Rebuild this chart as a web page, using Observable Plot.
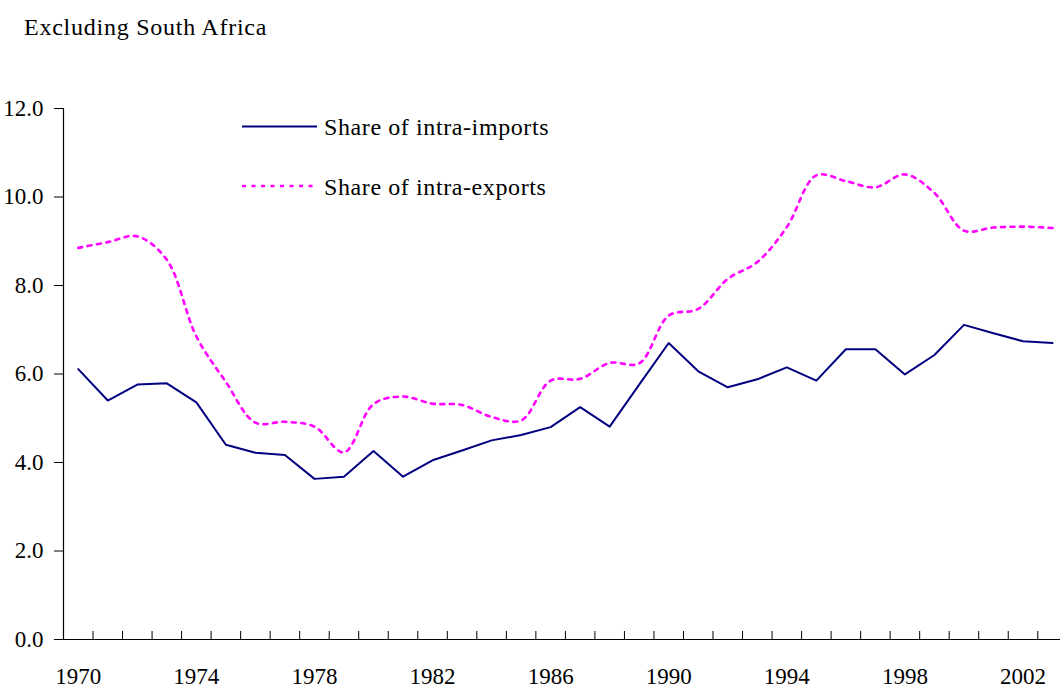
<!DOCTYPE html>
<html><head><meta charset="utf-8">
<script src="https://cdn.jsdelivr.net/npm/d3@7"></script>
<script src="https://cdn.jsdelivr.net/npm/@observablehq/plot@0.6"></script>
<style>
body{margin:0;background:#fff;}
#wrap{position:relative;width:1060px;height:692px;overflow:hidden;background:#fff;}
#title{height:55px;box-sizing:border-box;padding:16px 0 0 24px;font-family:"Liberation Serif",serif;font-size:24px;line-height:22px;letter-spacing:0.75px;color:#000;white-space:nowrap;}
#legend{position:absolute;left:0;top:0;pointer-events:none;}
</style></head><body>
<div id="wrap"><div id="title"></div><div id="chart"></div><svg id="legend" width="1060" height="692"></svg></div>
<script>
const titleText = "Excluding South Africa";
const seriesNames = ["Share of intra-imports", "Share of intra-exports"];
const years = [1970,1971,1972,1973,1974,1975,1976,1977,1978,1979,1980,1981,1982,1983,1984,1985,1986,1987,1988,1989,1990,1991,1992,1993,1994,1995,1996,1997,1998,1999,2000,2001,2002,2003];
const imports = [6.11,5.40,5.76,5.79,5.36,4.40,4.22,4.17,3.63,3.68,4.26,3.68,4.05,4.27,4.50,4.62,4.80,5.25,4.81,5.76,6.70,6.06,5.70,5.88,6.15,5.85,6.56,6.56,5.99,6.43,7.11,6.92,6.74,6.70];
const exports_ = [8.85,8.98,9.11,8.58,6.85,5.82,4.90,4.92,4.81,4.23,5.32,5.49,5.33,5.30,5.03,4.95,5.85,5.89,6.25,6.24,7.32,7.47,8.15,8.53,9.32,10.49,10.36,10.22,10.51,10.09,9.24,9.31,9.33,9.30];
const yTicks = [0,2,4,6,8,10,12];
const xLabels = [1970,1974,1978,1982,1986,1990,1994,1998,2002];

document.getElementById("title").textContent = titleText;

const importRows = years.map((year,i)=>({year, value: imports[i], series: seriesNames[0]}));
const exportRows = years.map((year,i)=>({year, value: exports_[i], series: seriesNames[1]}));
const boundaries = years.slice(0,-1).map(y => y + 0.5);

const W = 1060, H = 637, MT = 53, MB = 53, ML = 63;
const innerH = H - MT - MB;
const font = '"Liberation Serif", "Times New Roman", serif';

const chart = Plot.plot({
  width: W, height: H,
  marginLeft: ML, marginRight: 0, marginTop: MT, marginBottom: MB,
  style: {fontFamily: font, fontSize: "23px", color: "#000", background: "#fff", overflow: "visible"},
  x: {domain: [1969.5, 2003.27]},
  y: {domain: [0, 12]},
  marks: [
    Plot.ruleX(boundaries, {x: d => d, insetTop: innerH - 8, stroke: "#000", strokeWidth: 1}),
    Plot.ruleY([0], {stroke: "#000", strokeWidth: 1.2}),
    Plot.ruleX([1969.5], {y1: 0, y2: 12, stroke: "#000", strokeWidth: 1.2}),
    Plot.axisY(yTicks, {tickSize: 9, tickPadding: 11, tickFormat: d => d.toFixed(1), label: null, stroke: "#000"}),
    Plot.axisX(xLabels, {tickSize: 0, tickPadding: 28, tickFormat: d => String(d), label: null}),
    Plot.line(exportRows, {x: "year", y: "value", stroke: "#FF00FF", strokeWidth: 2.6, strokeDasharray: "4,5.5", curve: "catmull-rom"}),
    Plot.line(importRows, {x: "year", y: "value", stroke: "#000080", strokeWidth: 2})
  ]
});
document.getElementById("chart").appendChild(chart);

// legend
const lg = d3.select("#legend");
const legendItems = [
  {name: seriesNames[0], color: "#000080", dash: null, width: 2, ly: 126.5, ty: 135},
  {name: seriesNames[1], color: "#FF00FF", dash: "4,5.5", width: 2.6, ly: 186, ty: 194.5}
];
legendItems.forEach(it => {
  lg.append("line").attr("x1", 242).attr("x2", 317).attr("y1", it.ly).attr("y2", it.ly)
    .attr("stroke", it.color).attr("stroke-width", it.width).attr("stroke-dasharray", it.dash);
  lg.append("text").attr("x", 324).attr("y", it.ty).text(it.name)
    .attr("font-family", font).attr("font-size", 24).attr("letter-spacing", 0.6).attr("fill", "#000");
});
</script>
</body></html>
